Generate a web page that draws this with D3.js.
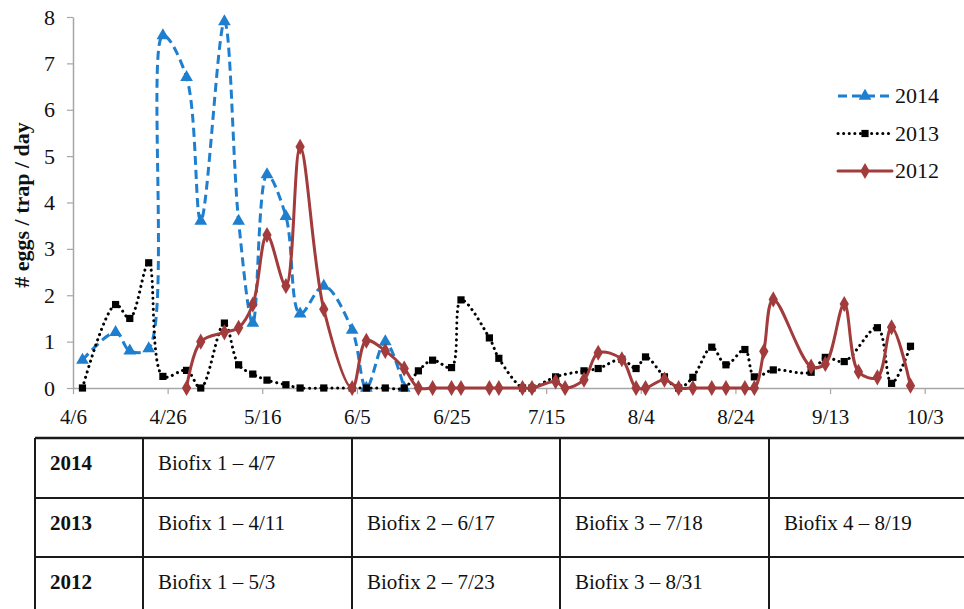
<!DOCTYPE html>
<html>
<head>
<meta charset="utf-8">
<script src="https://cdn.jsdelivr.net/npm/d3@7"></script>
<style>
  body { margin: 0; background: #fff; }
  svg { display: block; font-family: "Liberation Serif", "Times New Roman", serif; }
</style>
</head>
<body>
<svg id="chart" width="964" height="609"></svg>
<script>
// observation dates (month/day) and eggs per trap per day
var dates2014 = ["4/8", "4/15", "4/18", "4/22", "4/25", "4/30", "5/3", "5/8", "5/11", "5/14", "5/17", "5/21", "5/24", "5/29", "6/4", "6/7", "6/11", "6/15"];
var values2014 = [0.6, 1.2, 0.8, 0.85, 7.6, 6.7, 3.6, 7.9, 3.6, 1.4, 4.6, 3.7, 1.6, 2.2, 1.25, 0, 1.0, 0];

var dates2013 = ["4/8", "4/15", "4/18", "4/22", "4/25", "4/30", "5/3", "5/8", "5/11", "5/14", "5/17", "5/21", "5/24", "5/29", "6/4", "6/7", "6/11", "6/15", "6/18", "6/21", "6/25", "6/27", "7/3", "7/5", "7/10", "7/12", "7/17", "7/23", "7/26", "7/31", "8/3", "8/5", "8/9", "8/12", "8/15", "8/19", "8/22", "8/26", "8/28", "9/1", "9/9", "9/12", "9/16", "9/23", "9/26", "9/30"];
var values2013 = [0, 1.8, 1.5, 2.7, 0.25, 0.38, 0, 1.4, 0.5, 0.3, 0.17, 0.07, 0, 0, 0, 0, 0, 0, 0.37, 0.6, 0.44, 1.9, 1.08, 0.64, 0, 0, 0.24, 0.37, 0.42, 0.62, 0.42, 0.67, 0.24, 0, 0.23, 0.88, 0.5, 0.83, 0.24, 0.39, 0.34, 0.66, 0.57, 1.3, 0.1, 0.9];

var dates2012 = ["4/30", "5/3", "5/8", "5/11", "5/14", "5/17", "5/21", "5/24", "5/29", "6/4", "6/7", "6/11", "6/15", "6/18", "6/21", "6/25", "6/27", "7/3", "7/5", "7/10", "7/12", "7/17", "7/19", "7/23", "7/26", "7/31", "8/3", "8/5", "8/9", "8/12", "8/15", "8/19", "8/22", "8/26", "8/28", "8/30", "9/1", "9/9", "9/12", "9/16", "9/19", "9/23", "9/26", "9/30"];
var values2012 = [0, 1.0, 1.2, 1.3, 1.8, 3.3, 2.2, 5.2, 1.7, 0, 1.02, 0.8, 0.42, 0, 0, 0, 0, 0, 0, 0, 0, 0.14, 0, 0.18, 0.76, 0.62, 0, 0, 0.18, 0, 0, 0, 0, 0, 0, 0.79, 1.91, 0.46, 0.52, 1.81, 0.35, 0.23, 1.31, 0.05];

var xTickLabels = ["4/6", "4/26", "5/16", "6/5", "6/25", "7/15", "8/4", "8/24", "9/13", "10/3"];
var yTicks = [0, 1, 2, 3, 4, 5, 6, 7, 8];

var tableYears = ["2014", "2013", "2012"];
var biofix2014 = ["Biofix 1 \u2013 4/7", "", "", ""];
var biofix2013 = ["Biofix 1 \u2013 4/11", "Biofix 2 \u2013 6/17", "Biofix 3 \u2013 7/18", "Biofix 4 \u2013 8/19"];
var biofix2012 = ["Biofix 1 \u2013 5/3", "Biofix 2 \u2013 7/23", "Biofix 3 \u2013 8/31", ""];

var parseDay = d3.timeParse("%m/%d");
var fmtDay = d3.timeFormat("%-m/%-d");

function drawChart() {
    var svg = d3.select("#chart");

    var x = d3.scaleTime()
        .domain([parseDay("4/6"), parseDay("10/13")])
        .range([73, 972]);
    var y = d3.scaleLinear().domain([0, 8]).range([388, 17]);

    var plot = svg.append("g");

    // axes
    var xAxis = plot.append("g")
        .attr("transform", "translate(0,388)")
        .call(d3.axisBottom(x)
            .tickValues(xTickLabels.map(parseDay))
            .tickFormat(fmtDay)
            .tickSizeInner(6).tickSizeOuter(0).tickPadding(15));
    xAxis.select(".domain").attr("stroke", "#a6a6a6").attr("stroke-width", 1.5);
    xAxis.selectAll(".tick line").attr("stroke", "#a6a6a6").attr("stroke-width", 1.2);
    xAxis.selectAll("text").attr("font-size", 21).attr("fill", "#111")
        .attr("font-family", "Liberation Serif");

    var yAxis = plot.append("g")
        .attr("transform", "translate(73,0)")
        .call(d3.axisLeft(y).tickValues(yTicks).tickFormat(d3.format("d"))
            .tickSizeInner(6).tickSizeOuter(0).tickPadding(12));
    yAxis.select(".domain").attr("stroke", "#a6a6a6").attr("stroke-width", 1.5);
    yAxis.selectAll(".tick line").attr("stroke", "#a6a6a6").attr("stroke-width", 1.2);
    yAxis.selectAll("text").attr("font-size", 22).attr("fill", "#111")
        .attr("font-family", "Liberation Serif");

    svg.append("text")
        .attr("transform", "translate(29,205) rotate(-90)")
        .attr("text-anchor", "middle")
        .attr("font-size", 22)
        .attr("font-weight", "bold")
        .attr("fill", "#111")
        .text("# eggs / trap / day");

    var series = [
        { name: "2014", dates: dates2014, values: values2014, color: "#1f7fcf", dash: "9,5", width: 3, cap: "butt", symbol: d3.symbolTriangle, size: 70 },
        { name: "2013", dates: dates2013, values: values2013, color: "#000", dash: "0.1,5.5", width: 3, cap: "round", symbol: d3.symbolSquare, size: 52 },
        { name: "2012", dates: dates2012, values: values2012, color: "#a23b3b", dash: null, width: 3, cap: "round", symbol: d3.symbolDiamond, size: 75 }
    ];

    var line = d3.line()
        .x(function (d) { return x(d.date); })
        .y(function (d) { return y(d.value); })
        .curve(d3.curveCatmullRom.alpha(0.5));

    series.forEach(function (s) {
        var pts = s.dates.map(function (d, i) {
            return { date: parseDay(d), value: s.values[i] };
        });
        var g = plot.append("g");
        g.append("path")
            .datum(pts)
            .attr("fill", "none")
            .attr("stroke", s.color)
            .attr("stroke-width", s.width)
            .attr("stroke-linecap", s.cap)
            .attr("stroke-dasharray", s.dash)
            .attr("d", line);
        g.selectAll("path.mark")
            .data(pts)
            .enter()
            .append("path")
            .attr("class", "mark")
            .attr("transform", function (d) { return "translate(" + x(d.date) + "," + y(d.value) + ")"; })
            .attr("d", d3.symbol().type(s.symbol).size(s.size))
            .attr("fill", s.color);
    });

    // legend
    var legend = svg.append("g");
    series.forEach(function (s, i) {
        var ly = 96 + i * 37.5;
        legend.append("line")
            .attr("x1", 838).attr("x2", 892)
            .attr("y1", ly).attr("y2", ly)
            .attr("stroke", s.color)
            .attr("stroke-width", s.width)
            .attr("stroke-linecap", s.cap)
            .attr("stroke-dasharray", s.dash);
        legend.append("path")
            .attr("transform", "translate(865," + ly + ")")
            .attr("d", d3.symbol().type(s.symbol).size(s.size))
            .attr("fill", s.color);
        legend.append("text")
            .attr("x", 895).attr("y", ly + 7)
            .attr("font-size", 22)
            .attr("fill", "#111")
            .text(s.name);
    });

    // biofix table
    var colX = [35, 143, 352, 560, 769, 978];
    var rowY = [438, 498, 557, 616];
    var rows = [biofix2014, biofix2013, biofix2012];
    var table = svg.append("g");

    rowY.forEach(function (ry, i) {
        table.append("line")
            .attr("x1", 35).attr("x2", 964)
            .attr("y1", ry).attr("y2", ry)
            .attr("stroke", "#1a1a1a").attr("stroke-width", i === 0 ? 2.5 : 2);
    });
    colX.forEach(function (cx) {
        table.append("line")
            .attr("x1", cx).attr("x2", cx)
            .attr("y1", 438).attr("y2", 616)
            .attr("stroke", "#1a1a1a").attr("stroke-width", 2);
    });
    tableYears.forEach(function (yr, r) {
        table.append("text")
            .attr("x", 50).attr("y", rowY[r] + 32)
            .attr("font-size", 21).attr("font-weight", "bold")
            .attr("fill", "#111")
            .text(yr);
        rows[r].forEach(function (txt, c) {
            if (!txt) return;
            table.append("text")
                .attr("x", colX[c + 1] + 15).attr("y", rowY[r] + 32)
                .attr("font-size", 21)
                .attr("fill", "#111")
                .text(txt);
        });
    });
}

drawChart();
</script>
</body>
</html>
